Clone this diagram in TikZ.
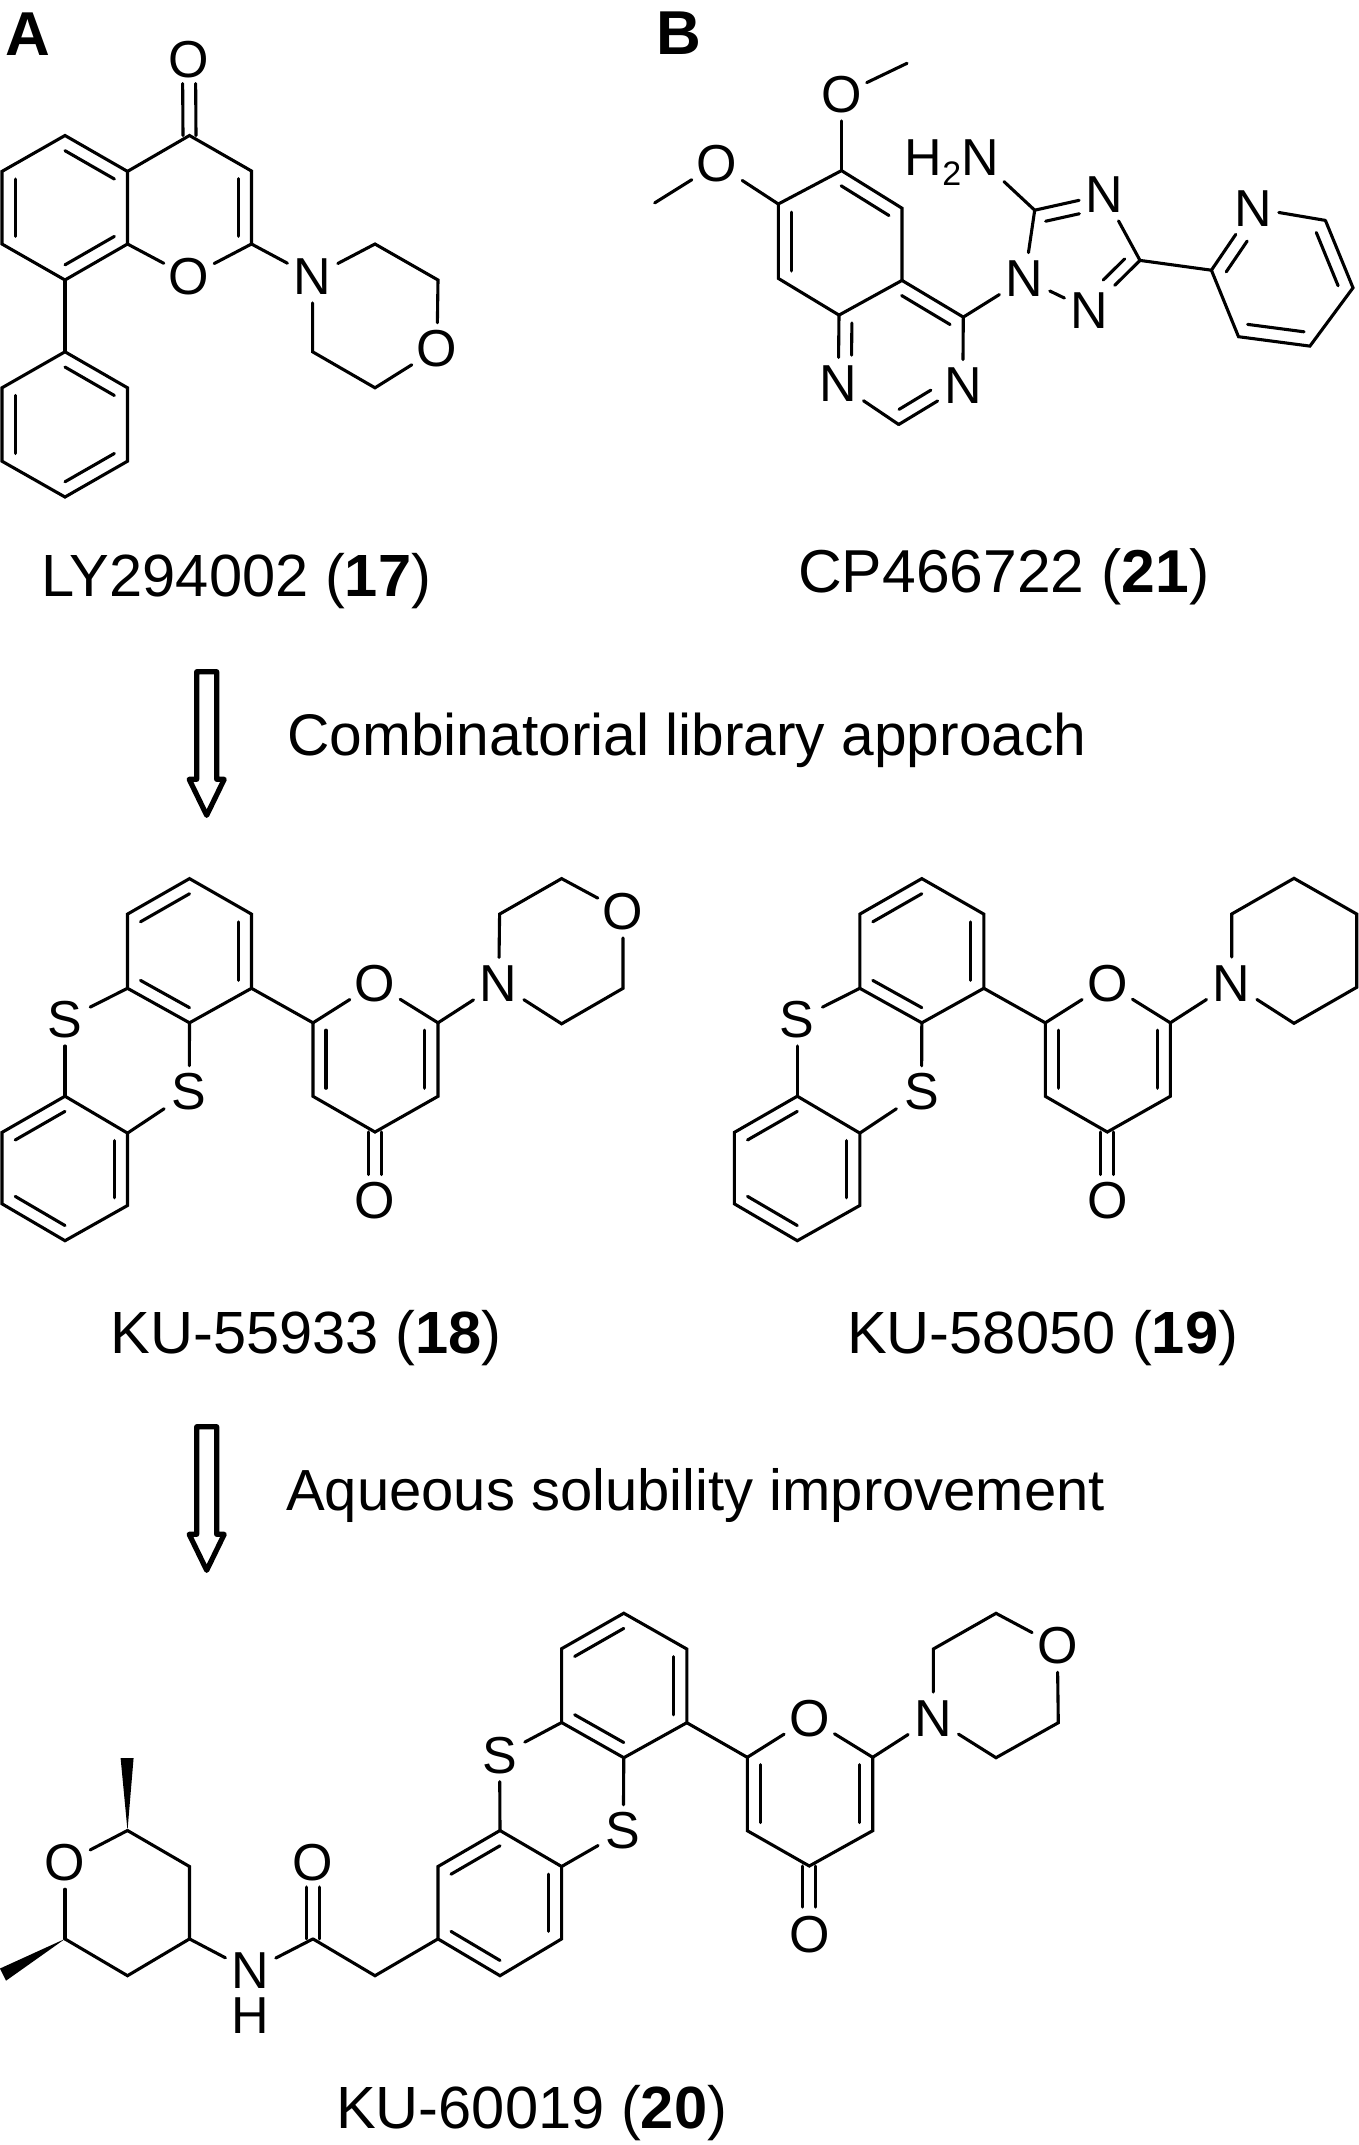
\documentclass[tikz,border=0pt]{standalone}
\usepackage{fontspec}
\setmainfont{Liberation Sans}
\usetikzlibrary{calc}
\tikzset{
  bond/.style={line width=3.1pt,line cap=round,line join=miter},
  atom/.style={rectangle,inner sep=0pt,minimum width=50pt,minimum height=52pt,font=\fontsize{52}{52}\selectfont},
  caption/.style={anchor=base west,inner sep=0pt,font=\fontsize{59.6}{60}\selectfont},
  phrase/.style={anchor=base west,inner sep=0pt,font=\fontsize{58.4}{60}\selectfont},
  panel/.style={anchor=base west,inner sep=0pt,font=\fontsize{62}{62}\selectfont\bfseries},
  wedge/.style={fill=black,draw=none},
  hollow/.style={draw=black,line width=5.2pt,line join=round,fill=none}
}
% inner line of a double bond: fraction, end a, end b, ring centre
\newcommand{\ibx}[5][]{\draw[bond,#1] ($(#3)!#2!(#5)$) -- ($(#4)!#2!(#5)$);}
\newcommand{\ib}[4][]{\ibx[#1]{.21}{#2}{#3}{#4}}
% C=O: carbon, oxygen, shortening at the oxygen
\newcommand{\cob}[3]{%
  \draw[bond,shorten >=#3] ([xshift=-6.5pt]#1.center) -- ([xshift=-6.5pt]#2.center);
  \draw[bond,shorten >=#3] ([xshift=6.5pt]#1.center) -- ([xshift=6.5pt]#2.center);}
% thianthrene + pyranone core of 18 and 19
\newcommand{\thiocore}[1]{%
  \coordinate (#1r1) at (189.5,878.6); \coordinate (#1r2) at (251.5,914.1);
  \coordinate (#1r3) at (251.5,988.3); \coordinate (#1r4) at (189.5,1022.8);
  \coordinate (#1r5) at (127.5,988.3); \coordinate (#1r6) at (127.5,914.1);
  \coordinate (#1rc) at ($(#1r1)!.5!(#1r4)$);
  \node[atom] (#1s1) at (65,1019.8) {S};
  \node[atom] (#1s2) at (189.3,1092) {S};
  \coordinate (#1l1) at (65,1096.2); \coordinate (#1l2) at (127.5,1133.1);
  \coordinate (#1l3) at (127.5,1205.5); \coordinate (#1l4) at (65,1240.7);
  \coordinate (#1l5) at (2,1203.8); \coordinate (#1l6) at (2,1132.4);
  \coordinate (#1lc) at ($(#1l1)!.5!(#1l4)$);
  \coordinate (#1p1) at (313,1022.8); \node[atom] (#1po) at (375,983.6) {O};
  \coordinate (#1p2) at (438,1022.8); \coordinate (#1p3) at (438,1096.3);
  \coordinate (#1p4) at (375,1132); \coordinate (#1p5) at (313,1096.3);
  \coordinate (#1pc) at ($(#1po)!.5!(#1p4)$);
  \node[atom] (#1co) at (375,1200.5) {O};
  \draw[bond] (#1r1)--(#1r2)--(#1r3)--(#1r4)--(#1r5)--(#1r6)--cycle;
  \ib{#1r1}{#1r6}{#1rc} \ib{#1r2}{#1r3}{#1rc} \ib{#1r4}{#1r5}{#1rc}
  \draw[bond] (#1r5)--(#1s1); \draw[bond] (#1s1)--(#1l1);
  \draw[bond] (#1r4)--(#1s2); \draw[bond] (#1s2)--(#1l2);
  \draw[bond] (#1l1)--(#1l2)--(#1l3)--(#1l4)--(#1l5)--(#1l6)--cycle;
  \ib{#1l1}{#1l6}{#1lc} \ib{#1l2}{#1l3}{#1lc} \ib{#1l4}{#1l5}{#1lc}
  \draw[bond] (#1r3)--(#1p1); \draw[bond] (#1p1)--(#1po); \draw[bond] (#1po)--(#1p2);
  \draw[bond] (#1p2)--(#1p3)--(#1p4)--(#1p5)--(#1p1);
  \ib{#1p1}{#1p5}{#1pc} \ib{#1p2}{#1p3}{#1pc}
  \cob{#1p4}{#1co}{26pt}}
\newcommand{\openarrow}[2]{%
  \begin{scope}[shift={(0,#2)}]
  \coordinate (#1a) at (196.7,671.7); \coordinate (#1b) at (216.7,671.7);
  \coordinate (#1c) at (216.7,779.3); \coordinate (#1d) at (224.2,779.3);
  \coordinate (#1e) at (206.7,815.3); \coordinate (#1f) at (189.2,779.3);
  \coordinate (#1g) at (196.7,779.3);
  \draw[hollow] (#1a)--(#1b)--(#1c)--(#1d)--(#1e)--(#1f)--(#1g)--cycle;
  \end{scope}}
\begin{document}
\begin{tikzpicture}[x=1pt,y=-1pt]
\useasboundingbox (0,0) rectangle (1358,2145);

\node[panel] (labA) at (5.5,55) {A};
\node[panel] (labB) at (656,54.5) {B};

%%% Molecule 17
\coordinate (a1) at (65,135.5); \coordinate (a2) at (127.5,171.4);
\coordinate (a3) at (127.5,244); \coordinate (a4) at (65,280);
\coordinate (a5) at (2,244); \coordinate (a6) at (2,171.4);
\coordinate (ac) at ($(a1)!.5!(a4)$);
\coordinate (b4) at (189.5,135.5); \coordinate (b3) at (251.5,171);
\coordinate (b2) at (251.5,244);
\coordinate (bc) at (189.5,207);
\node[atom] (bo) at (189,276.7) {O};
\node[atom] (bco) at (189,59.6) {O};
\node[atom] (mn) at (312.6,276.7) {N};
\node[atom] (mo) at (437,349) {O};
\coordinate (m1) at (375,244); \coordinate (m2) at (438,280);
\coordinate (m3) at (375,387.8); \coordinate (m4) at (312.6,351.8);
\coordinate (f1) at (65,351.8); \coordinate (f2) at (127.5,387.8);
\coordinate (f3) at (127.5,461.2); \coordinate (f4) at (65,497);
\coordinate (f5) at (2,461.2); \coordinate (f6) at (2,387.8);
\coordinate (fc) at ($(f1)!.5!(f4)$);
\draw[bond] (a1)--(a2)--(a3)--(a4)--(a5)--(a6)--cycle;
\ib{a1}{a2}{ac} \ib{a3}{a4}{ac} \ib{a5}{a6}{ac}
\draw[bond] (a2)--(b4)--(b3)--(b2);
\ib{b3}{b2}{bc}
\draw[bond] (a3)--(bo); \draw[bond] (bo)--(b2); \draw[bond] (b2)--(mn);
\cob{b4}{bco}{24pt}
\draw[bond] (mn)--(m1)--(m2)--(mo);
\draw[bond] (mo)--(m3)--(m4)--(mn);
\draw[bond] (a4)--(f1);
\draw[bond] (f1)--(f2)--(f3)--(f4)--(f5)--(f6)--cycle;
\ib{f1}{f2}{fc} \ib{f3}{f4}{fc} \ib{f5}{f6}{fc}
\node[caption] (c17) at (41,596.7) {LY294002 (\textbf{17})};

%%% Molecule 21
\node[atom] (qo1) at (841.5,94.7) {O};
\coordinate (qme1) at (907,63.3);
\node[atom] (qo2) at (717,164) {O};
\coordinate (qme2) at (654.7,202.9);
\coordinate (q6) at (841.5,170.6); \coordinate (q7) at (778.3,204);
\coordinate (q8) at (778.3,278.4); \coordinate (q8a) at (839,315.1);
\coordinate (q4a) at (902,280.4); \coordinate (q5) at (902,208.2);
\coordinate (q4) at (963.3,317.1);
\node[atom] (qn3) at (962.8,385.7) {N};
\coordinate (q2) at (898.7,424.5);
\node[atom] (qn1) at (838.3,383.7) {N};
\coordinate (qc) at (840,243); \coordinate (qd) at (900.4,352.5);
\node[atom] (tn1) at (1024.6,278.8) {N};
\node[atom] (tn2) at (1089.6,310.2) {N};
\coordinate (tc3) at (1140,260.4);
\node[atom] (tn4) at (1104.3,194.7) {N};
\coordinate (tc5) at (1034.7,210.2);
\coordinate (tc) at (1078.6,254.3);
\node[atom,anchor=base west,minimum width=0pt,minimum height=0pt] (nh2) at (904.5,175.5)
  {H\raisebox{-10pt}{\fontsize{34}{34}\selectfont 2}N};
\coordinate (nh2end) at (1004,181.6);
\coordinate (y2) at (1211.4,270.2);
\node[atom] (yn) at (1253.6,208.2) {N};
\coordinate (y6) at (1325.4,220.4); \coordinate (y5) at (1353,287.8);
\coordinate (y4) at (1309.9,346.1); \coordinate (y3) at (1238.5,336.7);
\coordinate (yc) at (1282,278);
\draw[bond] (qme1)--(qo1); \draw[bond] (qo1)--(q6);
\draw[bond] (qme2)--(qo2); \draw[bond] (qo2)--(q7);
\draw[bond] (q6)--(q5)--(q4a)--(q8a)--(q8)--(q7)--cycle;
\ib{q6}{q5}{qc} \ib{q7}{q8}{qc}
\draw[bond] (q4a)--(q4); \ib{q4a}{q4}{qd}
\draw[bond] (q4)--(qn3); \draw[bond] (qn3)--(q2); \draw[bond] (q2)--(qn1); \draw[bond] (qn1)--(q8a);
\ib[shorten >=22pt]{q8a}{qn1}{qd}
\ib[shorten >=22pt]{q2}{qn3}{qd}
\draw[bond] (q4)--(tn1); \draw[bond] (tn1)--(tc5); \draw[bond] (tc5)--(tn4);
\draw[bond] (tn4)--(tc3); \draw[bond] (tc3)--(tn2); \draw[bond] (tn2)--(tn1);
\ibx[shorten >=19pt]{.25}{tc5}{tn4}{tc}
\ibx[shorten >=23pt]{.25}{tc3}{tn2}{tc}
\draw[bond] (tc5)--(nh2end);
\draw[bond] (tc3)--(y2);
\draw[bond] (y2)--(yn); \draw[bond] (yn)--(y6);
\draw[bond] (y6)--(y5)--(y4)--(y3)--(y2);
\ib[shorten >=22pt]{y2}{yn}{yc} \ib{y6}{y5}{yc} \ib{y4}{y3}{yc}
\node[caption,font=\fontsize{60.6}{60}\selectfont] (c21) at (798,592.7) {CP466722 (\textbf{21})};

%%% Arrow 1
\openarrow{ar}{0}
\node[phrase,font=\fontsize{58.7}{60}\selectfont] (t1) at (287,755) {Combinatorial library approach};

%%% Molecule 18
\thiocore{k}
\node[atom] (kn) at (498.7,983.6) {N};
\coordinate (km1) at (499.6,914.1); \coordinate (km2) at (561.6,878.6);
\node[atom] (kmo) at (623,911.7) {O};
\coordinate (km3) at (623,988.3); \coordinate (km4) at (561.6,1023.8);
\draw[bond] (kp2)--(kn); \draw[bond] (kn)--(km1)--(km2)--(kmo);
\draw[bond] (kmo)--(km3)--(km4)--(kn);
\node[caption] (c18) at (110.5,1353.8) {KU-55933 (\textbf{18})};

%%% Molecule 19
\begin{scope}[xshift=732.3pt]
\thiocore{u}
\node[atom] (un) at (499.4,983.3) {N};
\coordinate (um1) at (499.4,914); \coordinate (um2) at (561.7,878.3);
\coordinate (um3) at (624.4,914); \coordinate (um4) at (624.4,987.3);
\coordinate (um5) at (561.7,1023.3);
\draw[bond] (up2)--(un); \draw[bond] (un)--(um1)--(um2)--(um3)--(um4)--(um5)--(un);
\end{scope}
\node[caption] (c19) at (847,1353) {KU-58050 (\textbf{19})};

%%% Arrow 2
\openarrow{br}{755}
\node[phrase,font=\fontsize{58}{60}\selectfont] (t2) at (286,1510.7) {Aqueous solubility improvement};

%%% Molecule 20
\coordinate (w1) at (127.5,1830.5);
\coordinate (w1a) at (120.6,1758); \coordinate (w1b) at (133.6,1758);
\node[atom] (wo) at (65,1863) {O};
\coordinate (w2) at (65,1938.9);
\coordinate (w2a) at (0,1968.5); \coordinate (w2b) at (6,1980.7);
\coordinate (w3) at (189.5,1866.5); \coordinate (w4) at (189.5,1938.9);
\coordinate (w5) at (127.5,1975.7);
\node[atom,minimum height=40pt] (wn) at (250.6,1971) {N};
\node[atom,minimum height=36pt] (wh) at (250.6,2015.6) {H};
\coordinate (wc) at (313,1938.9);
\node[atom] (wco) at (313,1863) {O};
\coordinate (wm) at (375,1975.7);
\coordinate (g1) at (438,1938.9); \coordinate (g2) at (438,1866.5);
\coordinate (g3) at (500,1830.5); \coordinate (g4) at (561.6,1866.5);
\coordinate (g5) at (561.6,1938.9); \coordinate (g6) at (500,1975.7);
\coordinate (gc) at ($(g3)!.5!(g6)$);
\node[atom] (gs1) at (499.6,1755.5) {S};
\node[atom] (gs2) at (623.3,1831) {S};
\coordinate (h1) at (561.6,1722.5); \coordinate (h2) at (561.6,1648.7);
\coordinate (h3) at (623.8,1613.2); \coordinate (h4) at (686.8,1649);
\coordinate (h5) at (686.8,1722.7); \coordinate (h6) at (623.8,1757.7);
\coordinate (hc) at ($(h3)!.5!(h6)$);
\coordinate (p1) at (747.3,1757.3); \node[atom] (po) at (809.3,1718.3) {O};
\coordinate (p2) at (872.7,1757.3); \coordinate (p3) at (872.7,1830.7);
\coordinate (p4) at (809.3,1866); \coordinate (p5) at (747.3,1830.7);
\coordinate (pc) at ($(po)!.5!(p4)$);
\node[atom] (pco) at (809.3,1935) {O};
\node[atom] (vn) at (933.3,1718.3) {N};
\coordinate (v1) at (933.3,1649); \coordinate (v2) at (996,1613.3);
\node[atom] (vo) at (1057.3,1646) {O};
\coordinate (v3) at (1058.3,1722.7); \coordinate (v4) at (996,1757.7);
\fill[wedge] (w1)--(w1a)--(w1b)--cycle;
\fill[wedge] (w2)--(w2a)--(w2b)--cycle;
\draw[bond] (wo)--(w1); \draw[bond] (w1)--(w3)--(w4)--(w5)--(w2); \draw[bond] (w2)--(wo);
\draw[bond] (w4)--(wn); \draw[bond] (wn)--(wc); \draw[bond] (wc)--(wm)--(g1);
\cob{wc}{wco}{24pt}
\draw[bond] (g1)--(g2)--(g3)--(g4)--(g5)--(g6)--cycle;
\ib{g2}{g3}{gc} \ib{g4}{g5}{gc} \ib{g6}{g1}{gc}
\draw[bond] (g3)--(gs1); \draw[bond] (gs1)--(h1);
\draw[bond] (g4)--(gs2); \draw[bond] (gs2)--(h6);
\draw[bond] (h1)--(h2)--(h3)--(h4)--(h5)--(h6)--cycle;
\ib{h2}{h3}{hc} \ib{h4}{h5}{hc} \ib{h6}{h1}{hc}
\draw[bond] (h5)--(p1); \draw[bond] (p1)--(po); \draw[bond] (po)--(p2);
\draw[bond] (p2)--(p3)--(p4)--(p5)--(p1);
\ib{p1}{p5}{pc} \ib{p2}{p3}{pc}
\cob{p4}{pco}{28pt}
\draw[bond] (p2)--(vn); \draw[bond] (vn)--(v1)--(v2)--(vo);
\draw[bond] (vo)--(v3)--(v4)--(vn);
\node[caption] (c20) at (336,2128.5) {KU-60019 (\textbf{20})};
\end{tikzpicture}
\end{document}
